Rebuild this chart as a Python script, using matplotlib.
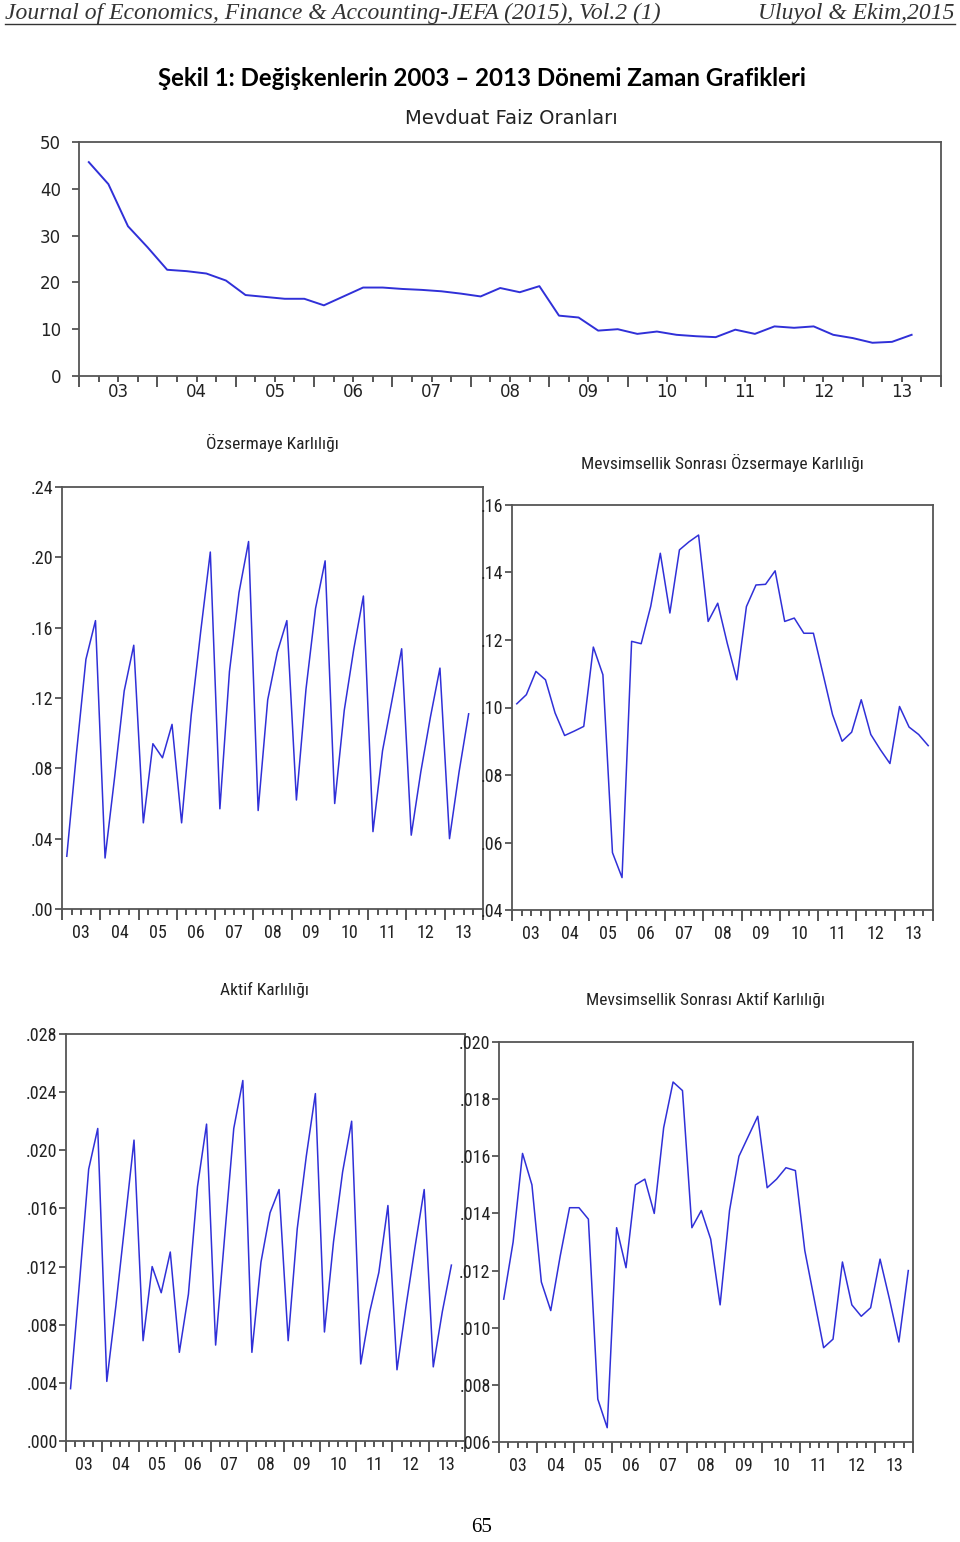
import matplotlib
matplotlib.use("Agg")
import numpy as np
import matplotlib.pyplot as plt
from matplotlib import font_manager
from matplotlib.ticker import FixedLocator, FuncFormatter

# ================================
# DATA (quarterly, 2003Q1 onwards)
# ================================

years = list(range(2003, 2014))
year_labels = ["03", "04", "05", "06", "07", "08", "09", "10", "11", "12", "13"]

mevduat_faiz = [45.7, 41.0, 32.0, 27.5, 22.7, 22.4, 21.9, 20.4, 17.3, 16.9, 16.5,
                16.5, 15.1, 17.0, 18.9, 18.9, 18.6, 18.4, 18.1, 17.6, 17.0, 18.8,
                17.9, 19.2, 12.9, 12.5, 9.7, 10.0, 9.0, 9.5, 8.8, 8.5, 8.3, 9.9,
                9.0, 10.6, 10.3, 10.6, 8.8, 8.1, 7.1, 7.3, 8.8]

ozsermaye = [0.030, 0.088, 0.142, 0.164, 0.029, 0.075, 0.124, 0.150, 0.049, 0.094,
             0.086, 0.105, 0.049, 0.110, 0.158, 0.203, 0.057, 0.135, 0.180, 0.209,
             0.056, 0.119, 0.146, 0.164, 0.062, 0.125, 0.171, 0.198, 0.060, 0.113,
             0.148, 0.178, 0.044, 0.090, 0.119, 0.148, 0.042, 0.078, 0.109, 0.137,
             0.040, 0.078, 0.111]

ozsermaye_sa = [0.1011, 0.1038, 0.1107, 0.1082, 0.0984, 0.0917, 0.0930, 0.0944,
                0.1179, 0.1097, 0.0570, 0.0496, 0.1196, 0.1189, 0.1300, 0.1457,
                0.1280, 0.1467, 0.1491, 0.1511, 0.1255, 0.1309, 0.1190, 0.1082,
                0.1299, 0.1363, 0.1365, 0.1405, 0.1255, 0.1265, 0.1220, 0.1220,
                0.1100, 0.0979, 0.0900, 0.0927, 0.1023, 0.0920, 0.0875, 0.0834,
                0.1003, 0.0942, 0.0920, 0.0887]

aktif = [0.0036, 0.0110, 0.0187, 0.0215, 0.0041, 0.0093, 0.0150, 0.0207, 0.0069,
         0.0120, 0.0102, 0.0130, 0.0061, 0.0101, 0.0175, 0.0218, 0.0066, 0.0141,
         0.0215, 0.0248, 0.0061, 0.0123, 0.0157, 0.0173, 0.0069, 0.0146, 0.0196,
         0.0239, 0.0075, 0.0137, 0.0185, 0.0220, 0.0053, 0.0089, 0.0116, 0.0162,
         0.0049, 0.0093, 0.0134, 0.0173, 0.0051, 0.0089, 0.0121]

aktif_sa = [0.0110, 0.0130, 0.0161, 0.0150, 0.0116, 0.0106, 0.0125, 0.0142, 0.0142,
            0.0138, 0.0075, 0.0065, 0.0135, 0.0121, 0.0150, 0.0152, 0.0140, 0.0170,
            0.0186, 0.0183, 0.0135, 0.0141, 0.0131, 0.0108, 0.0141, 0.0160, 0.0167,
            0.0174, 0.0149, 0.0152, 0.0156, 0.0155, 0.0127, 0.0110, 0.0093, 0.0096,
            0.0123, 0.0108, 0.0104, 0.0107, 0.0124, 0.0110, 0.0095, 0.0120]


# ================================
# STYLE
# ================================

W, H = 960, 1542
LINE_COLOR = "#3030d8"
FRAME_COLOR = "#555555"


def pick_font(names):
    available = {f.name for f in font_manager.fontManager.ttflist}
    for n in names:
        if n in available:
            return n
    return "DejaVu Sans"


NARROW = pick_font(["Liberation Sans Narrow", "DejaVu Sans Condensed",
                    "Roboto Condensed", "Liberation Sans"])
WIDE = "DejaVu Sans"


def quarter_x(n):
    # EViews puts each quarter in the middle of its slot
    return np.array([years[0] + (i + 0.5) / 4 for i in range(n)])


def box(left, top, right, bottom):
    return [left / W, 1 - bottom / H, (right - left) / W, (bottom - top) / H]


def style_axes(ax, font, fsize, yfmt, yticks, xpad, ypad, weight="normal"):
    ax.set_xlim(years[0], years[-1] + 1)
    ax.set_ylim(yticks[0], yticks[-1])
    for s in ax.spines.values():
        s.set_color(FRAME_COLOR)
        s.set_linewidth(1.3)

    # year boundaries: long ticks, no labels
    ax.xaxis.set_major_locator(FixedLocator(years + [years[-1] + 1]))
    ax.xaxis.set_major_formatter(FuncFormatter(lambda v, p: ""))
    # mid-year: labels only
    ax.set_xticks([y + 0.5 for y in years], year_labels, minor=True)
    ax.tick_params(axis="x", which="major", direction="out", length=8,
                   width=1.4, color=FRAME_COLOR)
    ax.tick_params(axis="x", which="minor", length=0, pad=xpad)
    for lab in ax.get_xticklabels(minor=True):
        lab.set_fontfamily(font)
        lab.set_fontsize(fsize)
        lab.set_fontweight(weight)
        lab.set_color("#222222")

    # quarter ticks on a second bottom axis
    q = [y + k / 4 for y in years for k in (1, 2, 3)]
    sec = ax.secondary_xaxis("bottom")
    sec.set_xticks(q)
    sec.set_xticklabels([])
    sec.tick_params(direction="out", length=4, width=1.4, color=FRAME_COLOR)
    sec.spines["bottom"].set_visible(False)

    ax.set_yticks(yticks)
    ax.yaxis.set_major_formatter(FuncFormatter(yfmt))
    ax.tick_params(axis="y", direction="out", length=5, width=1.3,
                   color=FRAME_COLOR, pad=ypad)
    for lab in ax.get_yticklabels():
        lab.set_fontfamily(font)
        lab.set_fontsize(fsize)
        lab.set_fontweight(weight)
        lab.set_color("#222222")


def dec_fmt(nd):
    def f(v, p):
        s = f"{v:.{nd}f}"
        return s[1:] if s.startswith("0") else s
    return f


# ================================
# FIGURE
# ================================

fig = plt.figure(figsize=(W / 100, H / 100), dpi=100)

# page header
fig.text(5 / W, 1 - 13 / H, "Journal of Economics, Finance & Accounting-JEFA (2015), Vol.2 (1)",
         family="Liberation Serif", style="italic", fontsize=17, va="center", ha="left",
         color="#333333")
fig.text(955 / W, 1 - 13 / H, "Uluyol & Ekim,2015", family="Liberation Serif",
         style="italic", fontsize=17, va="center", ha="right", color="#333333")
fig.add_artist(plt.Line2D([5 / W, 955 / W], [1 - 24 / H, 1 - 24 / H],
                          color="#333333", lw=1.0))
fig.text(482 / W, 1 - 78 / H, "Şekil 1: Değişkenlerin 2003 – 2013 Dönemi Zaman Grafikleri",
         family="Lato", weight="bold", fontsize=17.3, ha="center", va="center")
fig.text(482 / W, 1 - 1528 / H, "65", family="Liberation Serif", fontsize=15,
         ha="center", va="center")

# top panel
ax0 = fig.add_axes(box(79, 142, 941, 376))
ax0.plot(quarter_x(len(mevduat_faiz)), mevduat_faiz, color=LINE_COLOR, lw=1.4)
style_axes(ax0, WIDE, 12, lambda v, p: f"{v:.0f}", [0, 10, 20, 30, 40, 50],
           xpad=5, ypad=8)
fig.text(511 / W, 1 - 118 / H, "Mevduat Faiz Oranları", family=WIDE, fontsize=14,
         ha="center", va="center", color="#222222")

panels = [
    (box(62, 487, 483, 909), ozsermaye, "Özsermaye Karlılığı", (272, 443),
     [0.00, 0.04, 0.08, 0.12, 0.16, 0.20, 0.24], 2),
    (box(512, 505, 933, 910), ozsermaye_sa, "Mevsimsellik Sonrası Özsermaye Karlılığı",
     (722, 463), [0.04, 0.06, 0.08, 0.10, 0.12, 0.14, 0.16], 2),
    (box(66, 1034, 465, 1441), aktif, "Aktif Karlılığı", (265, 990),
     [0.000, 0.004, 0.008, 0.012, 0.016, 0.020, 0.024, 0.028], 3),
    (box(499, 1042, 913, 1442), aktif_sa, "Mevsimsellik Sonrası Aktif Karlılığı",
     (705, 1000), [0.006, 0.008, 0.010, 0.012, 0.014, 0.016, 0.018, 0.020], 3),
]

for rect, series, title, (tx, ty), yticks, nd in panels:
    ax = fig.add_axes(rect)
    ax.plot(quarter_x(len(series)), series, color=LINE_COLOR, lw=1.1)
    style_axes(ax, NARROW, 13, dec_fmt(nd), yticks, xpad=11, ypad=1)
    fig.text(tx / W, 1 - ty / H, title, family=NARROW, fontsize=12.5,
             ha="center", va="center", color="#222222")

fig.savefig("out.png", dpi=100)
